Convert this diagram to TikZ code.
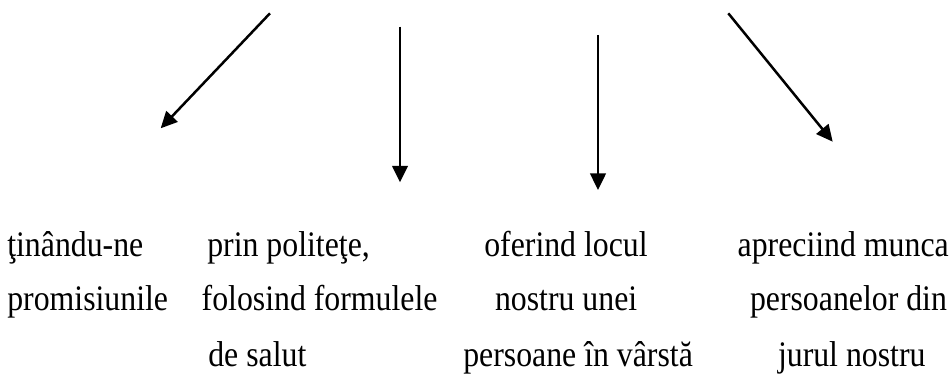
\documentclass[tikz,border=0pt]{standalone}
\usepackage{fontspec}
\usepackage{graphicx}
\setmainfont{Liberation Serif}
\usetikzlibrary{arrows.meta}
\newcommand\stretchtxt[1]{\scalebox{1}[1.13]{#1}}
\tikzset{
  txt/.style={inner sep=0pt, outer sep=0pt, anchor=base west,
    font=\fontsize{31.8}{38}\selectfont},
  arr/.style={line width=2.5pt, -{Triangle[length=16.5pt,width=15.5pt]}}
}
\begin{document}
\begin{tikzpicture}[x=1pt,y=-1pt]
\useasboundingbox (0,0) rectangle (952,374);
% arrow end points
\coordinate (s1) at (270,13.3);  \coordinate (e1) at (160.7,128.3);
\coordinate (s2) at (400,26.7);  \coordinate (e2) at (400,182.3);
\coordinate (s3) at (598,35);    \coordinate (e3) at (598,190);
\coordinate (s4) at (728.3,13.3);\coordinate (e4) at (832.7,141.7);
\draw[arr] (s1) -- (e1);
\draw[arr] (s2) -- (e2);
\draw[arr] (s3) -- (e3);
\draw[arr] (s4) -- (e4);
% column 1
\node[txt] (a1) at (7.3,256.5) {\stretchtxt{ţinându-ne}};
\node[txt] (a2) at (7.3,310.5) {\stretchtxt{promisiunile}};
% column 2
\node[txt] (b1) at (207.3,256.5) {\stretchtxt{prin politeţe,}};
\node[txt] (b2) at (201.7,310.5) {\stretchtxt{folosind formulele}};
\node[txt] (b3) at (208.3,366) {\stretchtxt{de salut}};
% column 3
\node[txt] (c1) at (484.3,256.5) {\stretchtxt{oferind locul}};
\node[txt] (c2) at (495,310.5) {\stretchtxt{nostru unei}};
\node[txt] (c3) at (463.3,366) {\stretchtxt{persoane în vârstă}};
% column 4
\node[txt] (d1) at (737.7,256.5) {\stretchtxt{apreciind munca}};
\node[txt] (d2) at (750,310.5) {\stretchtxt{persoanelor din}};
\node[txt] (d3) at (778,366) {\stretchtxt{jurul nostru}};
\end{tikzpicture}
\end{document}
